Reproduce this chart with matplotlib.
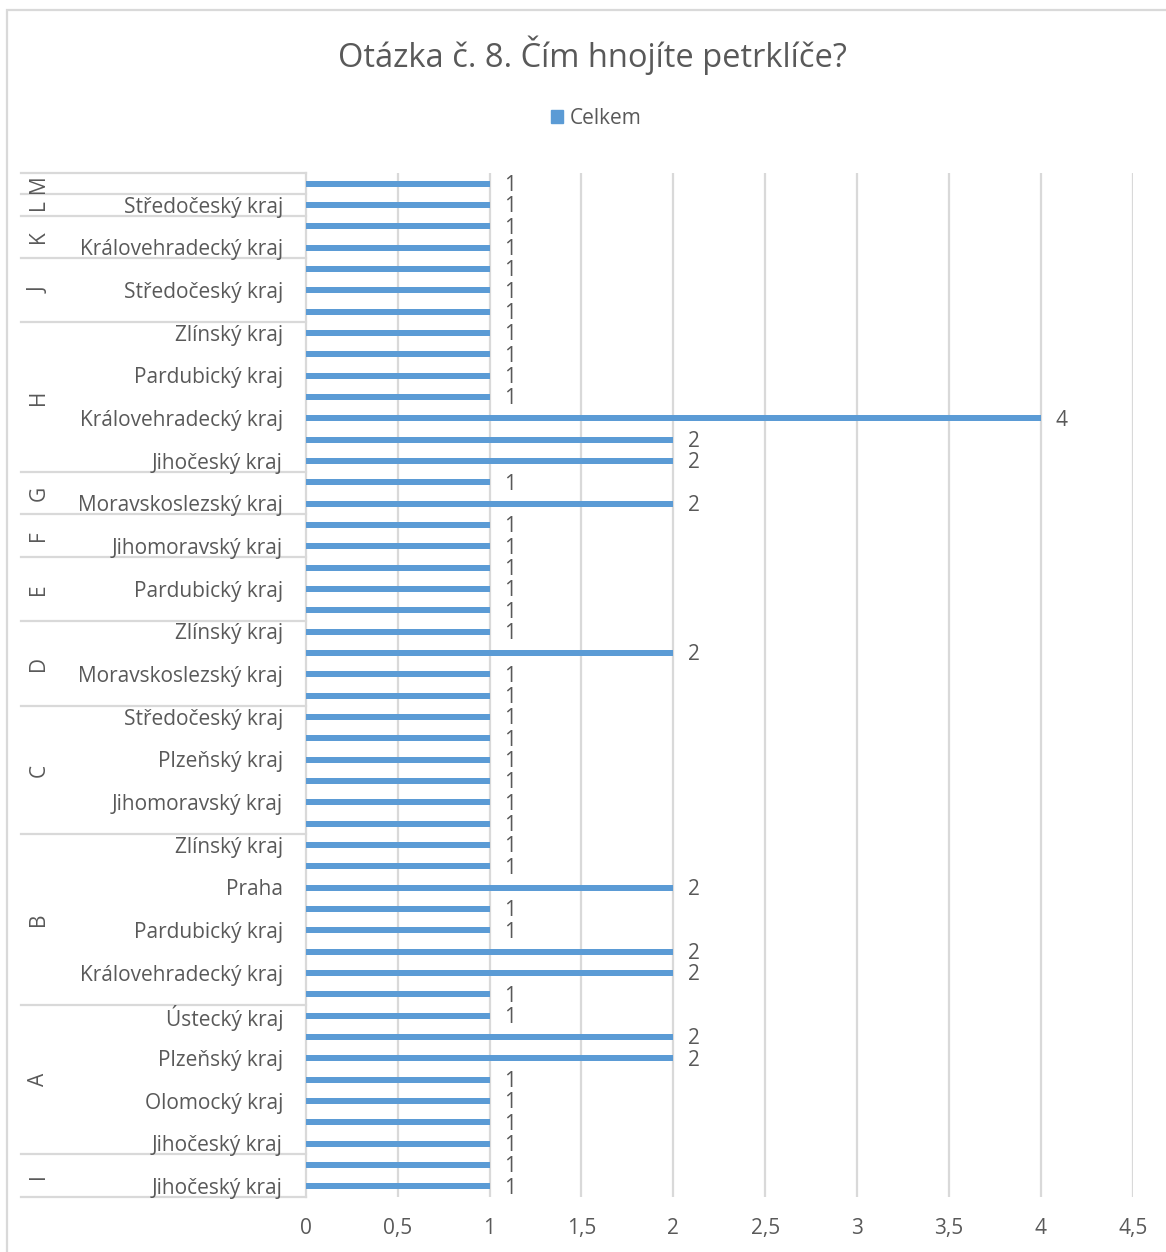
import matplotlib.pyplot as plt
import matplotlib.transforms as mtransforms
from matplotlib.patches import Rectangle, Patch

# data, listed bottom -> top (Excel order)
values = [1, 1,
          1, 1, 1, 1, 2, 2, 1,
          1, 2, 2, 1, 1, 2, 1, 1,
          1, 1, 1, 1, 1, 1,
          1, 1, 2, 1,
          1, 1, 1,
          1, 1,
          2, 1,
          2, 2, 4, 1, 1, 1, 1,
          1, 1, 1,
          1, 1,
          1,
          1]
# inner labels; "" where Excel skipped the label
inner_labels = ["Jihočeský kraj", "",
                "Jihočeský kraj", "", "Olomocký kraj", "", "Plzeňský kraj", "", "Ústecký kraj",
                "", "Královehradecký kraj", "", "Pardubický kraj", "", "Praha", "", "Zlínský kraj",
                "", "Jihomoravský kraj", "", "Plzeňský kraj", "", "Středočeský kraj",
                "", "Moravskoslezský kraj", "", "Zlínský kraj",
                "", "Pardubický kraj", "",
                "Jihomoravský kraj", "",
                "Moravskoslezský kraj", "",
                "Jihočeský kraj", "", "Královehradecký kraj", "", "Pardubický kraj", "", "Zlínský kraj",
                "", "Středočeský kraj", "",
                "Královehradecký kraj", "",
                "Středočeský kraj",
                ""]
groups = ["I", "A", "B", "C", "D", "E", "F", "G", "H", "J", "K", "L", "M"]
group_sizes = [2, 7, 8, 6, 4, 3, 2, 2, 7, 3, 2, 1, 1]

title = "Otázka č. 8. Čím hnojíte petrklíče?"
series_name = "Celkem"

bar_color = "#5B9BD5"
text_color = "#595959"
grid_color = "#D9D9D9"
plt.rcParams['font.family'] = ['Open Sans', 'DejaVu Sans']

W, H = 1166, 1252
fig = plt.figure(figsize=(W / 100, H / 100), dpi=100)

x0, x1 = 305.7, 1132.8
y_top, y_bot = 173, 1197
ax = fig.add_axes([x0 / W, 1 - y_bot / H, (x1 - x0) / W, (y_bot - y_top) / H])

n = len(values)
pos = list(range(n))
ax.barh(pos, values, height=0.28, color=bar_color, zorder=3)
ax.set_ylim(-0.5, n - 0.5)
ax.set_xlim(0, 4.5)
xt = [0, 0.5, 1, 1.5, 2, 2.5, 3, 3.5, 4, 4.5]
ax.set_xticks(xt)
ax.set_xticklabels([("%g" % v).replace(".", ",") for v in xt], color=text_color, fontsize=15)
ax.tick_params(axis='x', length=0, pad=15)
ax.set_yticks([])
for v in xt[1:]:
    ax.axvline(v, color=grid_color, lw=1.6, zorder=1)
for s in ax.spines.values():
    s.set_visible(False)

# value labels
for p, v in zip(pos, values):
    ax.annotate(str(v), (v, p), xytext=(15, -2), textcoords='offset pixels',
                va='center', ha='left', fontsize=15, color=text_color)

# category table
trans = mtransforms.blended_transform_factory(ax.transAxes, ax.transData)
left_x = (21 - x0) / (x1 - x0)
inner_x = (283 - x0) / (x1 - x0)
group_x = (39 - x0) / (x1 - x0)
for p, lab in zip(pos, inner_labels):
    if lab:
        ax.text(inner_x, p - 0.1, lab, transform=trans, ha='right', va='center',
                fontsize=15, color=text_color)
ax.plot([0, 0], [-0.5, n - 0.5], transform=trans, color=grid_color, lw=1.6, clip_on=False)
start = 0
ax.plot([left_x, 0], [-0.5, -0.5], transform=trans, color=grid_color, lw=1.6, clip_on=False)
for g, size in zip(groups, group_sizes):
    end = start + size
    ax.plot([left_x, 0], [end - 0.5, end - 0.5], transform=trans, color=grid_color,
            lw=1.6, clip_on=False)
    ax.text(group_x, (start + end - 1) / 2, g, transform=trans, rotation=90,
            ha='center', va='center', fontsize=15, color=text_color)
    start = end

# title and legend
fig.text(592 / W, 1 - 55 / H, title, ha='center', va='center', fontsize=23.5, color=text_color)
leg = fig.legend(handles=[Patch(color=bar_color, label=series_name)], loc='center',
                 bbox_to_anchor=(596 / W, 1 - 118 / H), frameon=False, fontsize=15,
                 handlelength=0.6, handleheight=0.6, handletextpad=0.3)
for t in leg.get_texts():
    t.set_color(text_color)

# chart border
fig.patches.append(Rectangle((7 / W, -0.01), 1.1, 1 - 10 / H + 0.01, transform=fig.transFigure,
                             fill=False, edgecolor=grid_color, lw=1.6))

fig.savefig("out.png", dpi=100)
